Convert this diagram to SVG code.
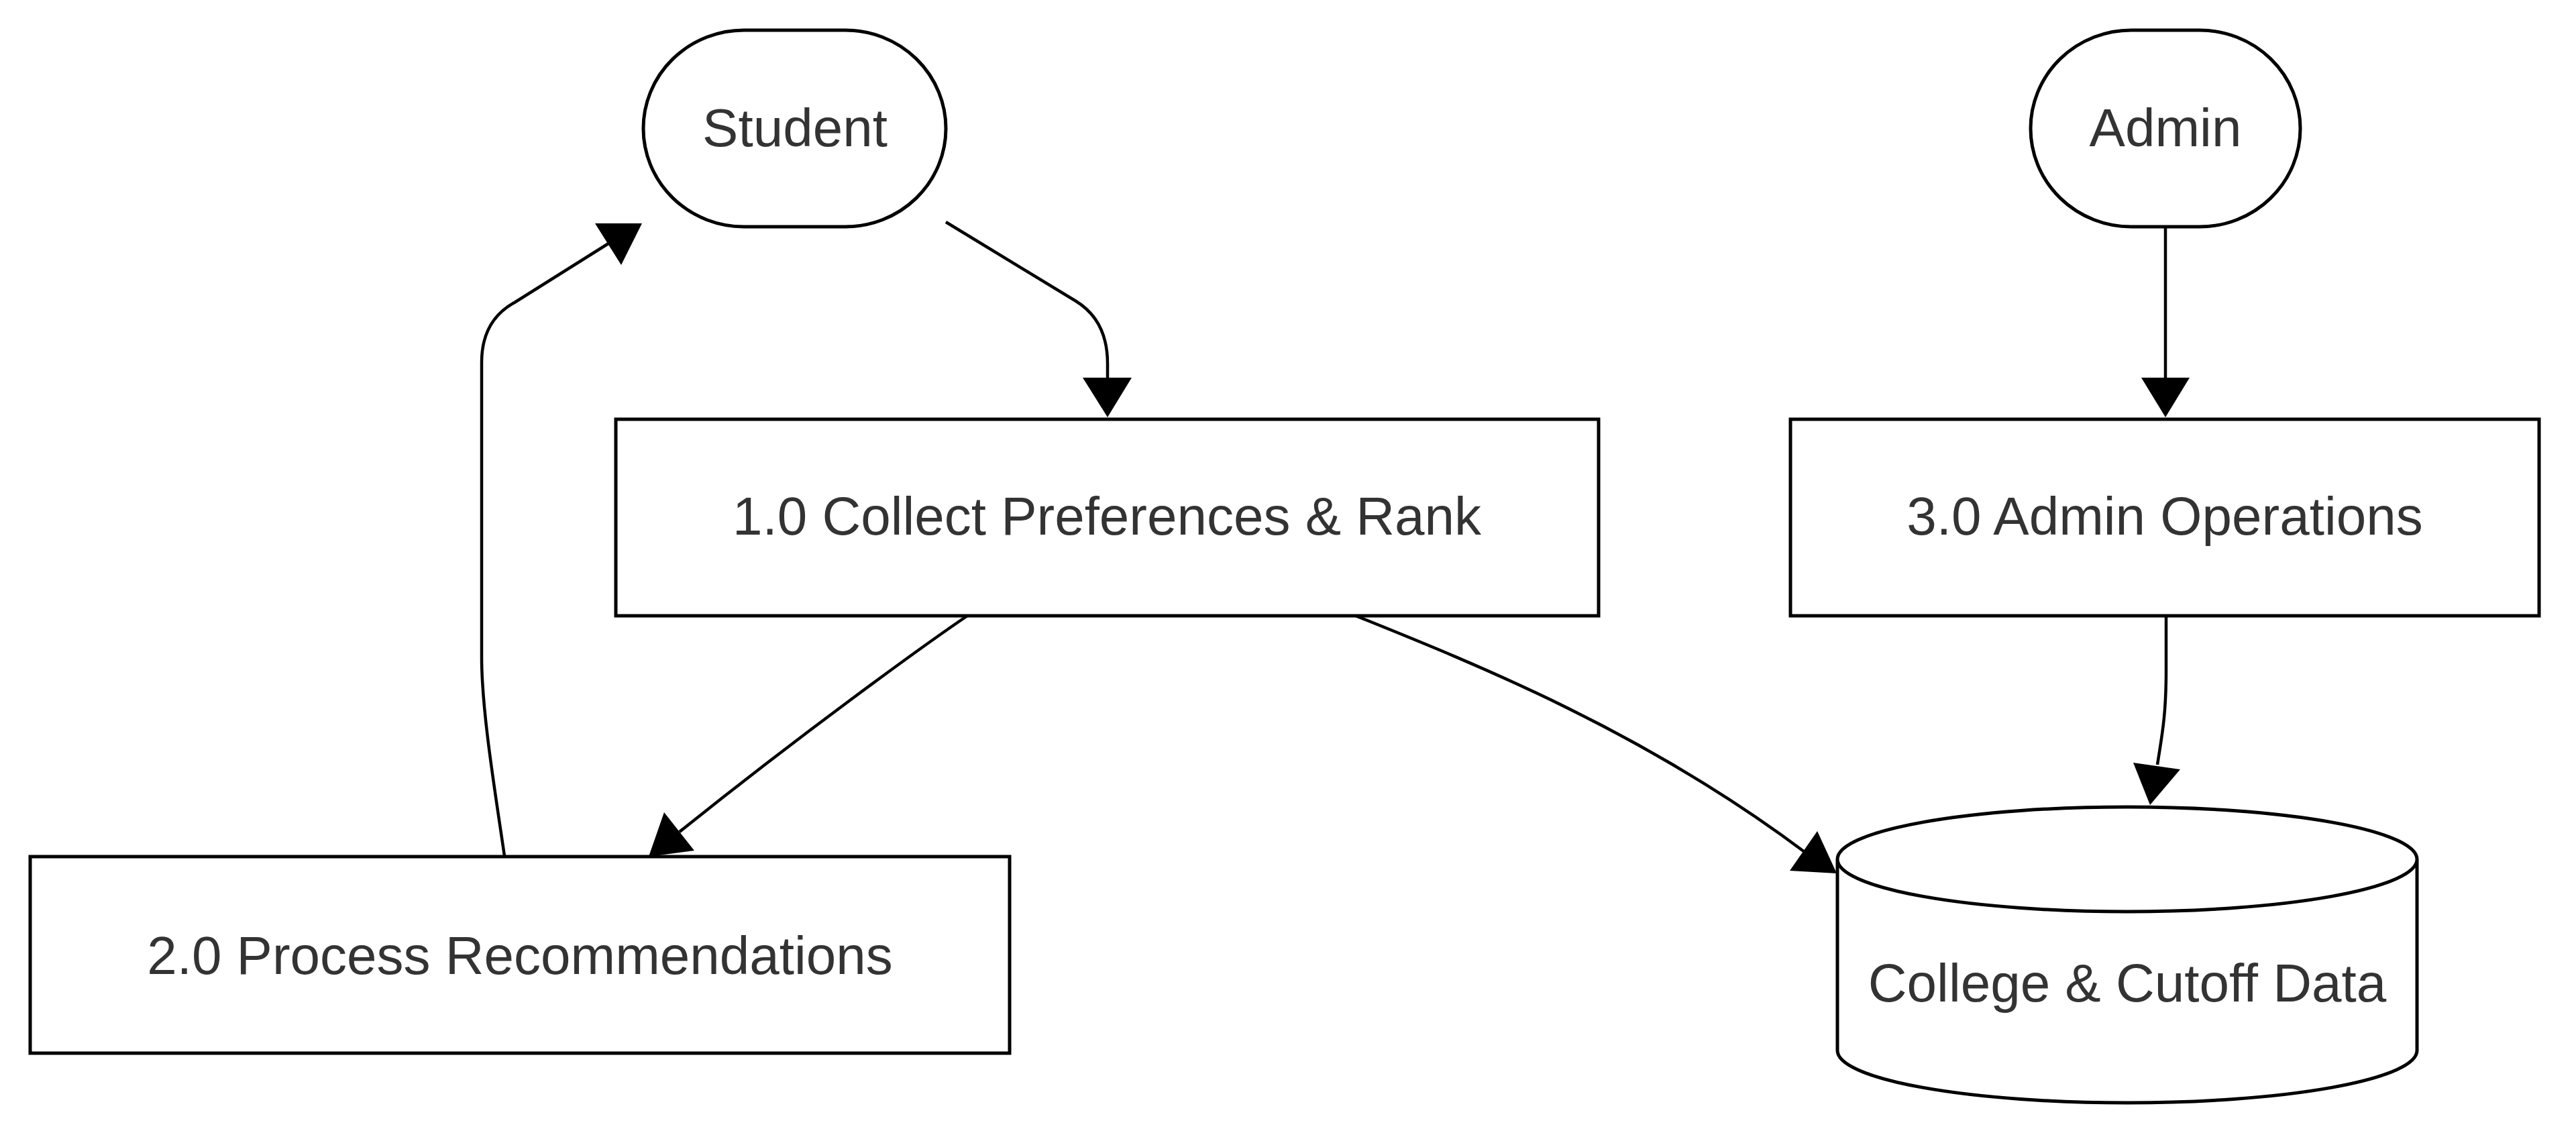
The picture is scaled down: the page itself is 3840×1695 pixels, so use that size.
<svg xmlns="http://www.w3.org/2000/svg" width="3840" height="1695" viewBox="0 0 3840 1695">
  <style>
    .node { fill: #ffffff; stroke: #000000; stroke-width: 5; }
    .label { font-family: "Liberation Sans", Arial, sans-serif; font-size: 80px; fill: #333333; text-anchor: middle; }
    .edge { fill: none; stroke: #000000; stroke-width: 4.5; }
    .head { fill: #000000; stroke: none; }
  </style>
  <rect x="0" y="0" width="3840" height="1695" fill="#ffffff"/>

  <g id="connectors">
    <!-- Student -> 1.0 -->
    <path class="edge" d="M1410,331 L1604,449 Q1651,478 1651,542 L1651,565"/>
    <polygon class="head" points="1614,563 1687,563 1651,622"/>
    <!-- Admin -> 3.0 -->
    <path class="edge" d="M3228,338 L3228,565"/>
    <polygon class="head" points="3192,563 3264,563 3228,622"/>
    <!-- 2.0 -> Student -->
    <path class="edge" d="M752,1276 C738,1180 718,1060 718,980 L718,540 Q718,478 767,451 L907,363"/>
    <polygon class="head" points="887,333 957,333 926,395"/>
    <!-- 1.0 -> 2.0 -->
    <path class="edge" d="M1442,918 C1380,960 1200,1090 1013,1240"/>
    <polygon class="head" points="990,1211 1035,1268 967,1277"/>
    <!-- 1.0 -> College & Cutoff Data -->
    <path class="edge" d="M2021,918 C2200,990 2450,1090 2690,1270"/>
    <polygon class="head" points="2709,1239 2738,1302 2668,1298"/>
    <!-- 3.0 -> College & Cutoff Data -->
    <path class="edge" d="M3229,918 L3229,1000 C3229,1070 3222,1100 3216,1140"/>
    <polygon class="head" points="3180,1137 3250,1147 3205,1200"/>
  </g>

  <g id="student">
    <rect class="node" x="959" y="45" width="451" height="293" rx="150" ry="146.5"/>
    <text class="label" x="1185" y="218">Student</text>
  </g>

  <g id="admin">
    <rect class="node" x="3027" y="45" width="402" height="293" rx="150" ry="146.5"/>
    <text class="label" x="3228" y="218">Admin</text>
  </g>

  <g id="p1">
    <rect class="node" x="918" y="625" width="1465" height="293"/>
    <text class="label" x="1650" y="797">1.0 Collect Preferences &amp; Rank</text>
  </g>

  <g id="p3">
    <rect class="node" x="2669" y="625" width="1116" height="293"/>
    <text class="label" x="3227" y="797">3.0 Admin Operations</text>
  </g>

  <g id="p2">
    <rect class="node" x="45" y="1277" width="1460" height="293"/>
    <text class="label" x="775" y="1452">2.0 Process Recommendations</text>
  </g>

  <g id="store">
    <path class="node" d="M2739,1281 A432,78 0 0 0 3603,1281 A432,78 0 0 0 2739,1281 L2739,1566 A432,78 0 0 0 3603,1566 L3603,1281"/>
    <text class="label" x="3171" y="1493">College &amp; Cutoff Data</text>
  </g>
</svg>
